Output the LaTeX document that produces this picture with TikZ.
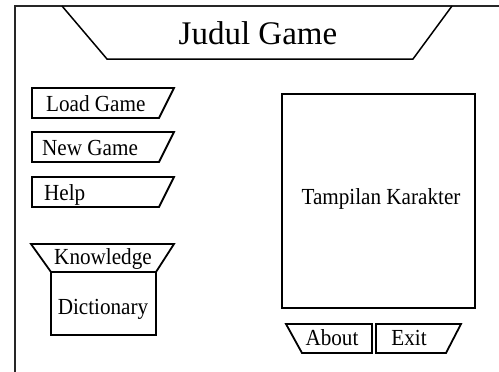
\documentclass[tikz,border=0pt]{standalone}
\usepackage{fontspec}
\setmainfont{Liberation Serif}
\begin{document}
\begin{tikzpicture}[x=1pt,y=-1pt,
  shp/.style={draw=black,line width=1.8pt,line join=miter},
  frm/.style={draw=black!85,line width=1.5pt},
  lbl/.style={inner sep=0pt,anchor=base,xscale=0.92,transform shape,font=\fontsize{23}{26}\selectfont},
  ttl/.style={inner sep=0pt,anchor=base,font=\fontsize{33}{36}\selectfont}]
\useasboundingbox (0,0) rectangle (499,372);
% outer frame
\draw[frm] (15,372) -- (15,6) -- (499,6);
% title
\draw[shp,line width=1.5pt] (62,6) -- (107,59) -- (413,59) -- (452,6);
\node[ttl] (title) at (258,44) {Judul Game};
% left buttons
\draw[shp] (32,88) -- (174,88) -- (159,118) -- (32,118) -- cycle;
\node[lbl,anchor=base west] (load) at (46,111.5) {Load Game};
\draw[shp] (32,132) -- (174,132) -- (159,162) -- (32,162) -- cycle;
\node[lbl,anchor=base west] (new) at (42,155.5) {New Game};
\draw[shp] (32,177) -- (174,177) -- (159,207) -- (32,207) -- cycle;
\node[lbl,anchor=base west] (help) at (44,200.5) {Help};
% knowledge / dictionary
\draw[shp] (31,244) -- (174,244) -- (156,272) -- (51,272) -- cycle;
\draw[shp] (51,272) rectangle (156,335);
\node[lbl] (know) at (103,264.5) {Knowledge};
\node[lbl] (dict) at (103,314.5) {Dictionary};
% character box
\draw[shp] (282,94) rectangle (475,308);
\node[lbl] (char) at (381,204.5) {Tampilan Karakter};
% about / exit
\draw[shp] (286,324) -- (372,324) -- (372,353) -- (302,353) -- cycle;
\node[lbl] (about) at (332,345.5) {About};
\draw[shp] (376,324) -- (461,324) -- (446,353) -- (376,353) -- cycle;
\node[lbl] (exit) at (409,345.5) {Exit};
\end{tikzpicture}
\end{document}
